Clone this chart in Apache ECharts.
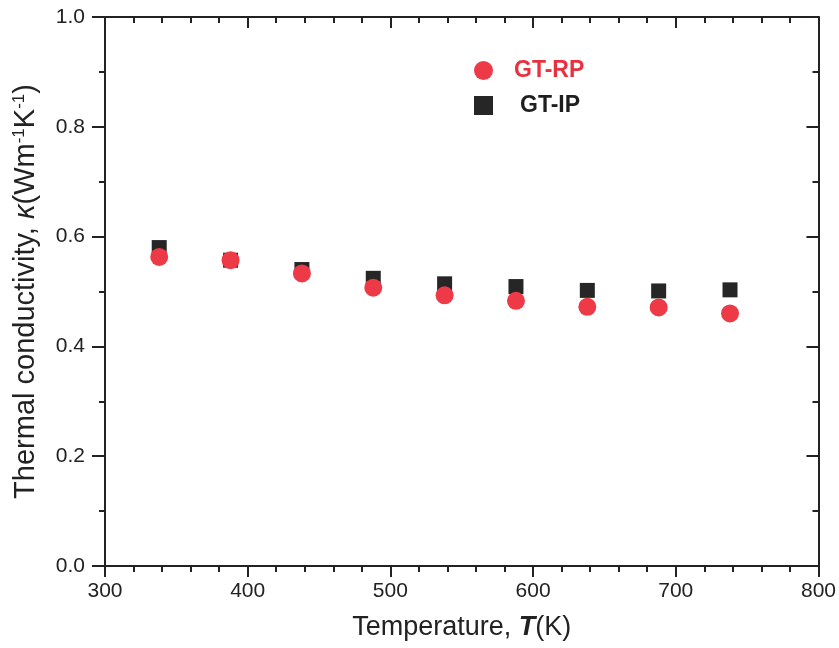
<!DOCTYPE html>
<html>
<head>
<meta charset="utf-8">
<script src="https://cdn.jsdelivr.net/npm/echarts@6/dist/echarts.min.js"></script>
<style>html,body{margin:0;padding:0;background:#fff}#c{width:839px;height:648px}</style>
</head>
<body>
<div id="c"></div>
<script>
var temperatures = [338, 388, 438, 488, 538, 588, 638, 688, 738];
var gtRP = [0.563, 0.557, 0.533, 0.507, 0.493, 0.483, 0.472, 0.471, 0.460];
var gtIP = [0.580, 0.557, 0.540, 0.524, 0.514, 0.509, 0.502, 0.501, 0.503];
var seriesNames = ['GT-RP', 'GT-IP'];

function pairs(xs, ys) { return xs.map(function (x, i) { return [x, ys[i]]; }); }

var FONT = '"Liberation Sans", Arial, sans-serif';
var axisLine = { show: true, onZero: false, lineStyle: { color: '#222', width: 2 } };
var chart = echarts.init(document.getElementById('c'), null, { renderer: 'canvas' });
chart.setOption({
  backgroundColor: '#fff',
  animation: false,
  grid: { left: 105, right: 19, top: 17, bottom: 82, containLabel: false },
  legend: {
    orient: 'vertical', left: 469, top: 54, itemWidth: 19, itemHeight: 19, itemGap: 12,
    textStyle: { fontFamily: FONT, fontSize: 23, fontWeight: 'bold', padding: [0, 0, 0, 16] },
    data: [
      { name: seriesNames[0], icon: 'circle', textStyle: { color: '#e8313f' } },
      { name: seriesNames[1], icon: 'rect', textStyle: { color: '#1e1e1e', padding: [0, 0, 0, 22] } }
    ]
  },
  xAxis: [{
    type: 'value', min: 300, max: 800, interval: 100, position: 'bottom',
    axisLine: axisLine,
    axisTick: { show: true, inside: false, length: 11, lineStyle: { color: '#222', width: 2 } },
    minorTick: { show: true, splitNumber: 5, length: 6, lineStyle: { color: '#222', width: 2 } },
    splitLine: { show: false },
    axisLabel: { fontFamily: FONT, fontSize: 21, color: '#222', margin: 15 },
    name: '{n|Temperature, }{b|T}{n|(K)}', nameLocation: 'middle', nameGap: 48,
    nameTextStyle: { rich: {
      n: { fontFamily: FONT, fontSize: 27, color: '#222' },
      b: { fontFamily: FONT, fontSize: 27, color: '#222', fontWeight: 'bold', fontStyle: 'italic' }
    } }
  }, {
    type: 'value', min: 300, max: 800, interval: 100, position: 'top',
    axisLine: axisLine,
    axisTick: { show: true, inside: true, length: 11, lineStyle: { color: '#222', width: 2 } },
    minorTick: { show: true, splitNumber: 5, length: 6, lineStyle: { color: '#222', width: 2 } },
    splitLine: { show: false }, axisLabel: { show: false }
  }],
  yAxis: [{
    type: 'value', min: 0, max: 1, interval: 0.2, position: 'left',
    axisLine: axisLine,
    axisTick: { show: true, inside: false, length: 13, lineStyle: { color: '#222', width: 2 } },
    minorTick: { show: true, splitNumber: 2, length: 6, lineStyle: { color: '#222', width: 2 } },
    splitLine: { show: false },
    axisLabel: { fontFamily: FONT, fontSize: 21, color: '#222', margin: 20, formatter: function (v) { return v.toFixed(1); } },
    name: '{n|Thermal conductivity, }{i|κ}{n|(Wm}{s|-1}{n|K}{s|-1}{n|)}', nameLocation: 'middle', nameGap: 64,
    nameTextStyle: { rich: {
      n: { fontFamily: FONT, fontSize: 29, color: '#222' },
      i: { fontFamily: FONT, fontSize: 29, color: '#222', fontStyle: 'italic' },
      s: { fontFamily: FONT, fontSize: 17, color: '#222', verticalAlign: 'top', padding: [0, 0, 13, 0] }
    } }
  }, {
    type: 'value', min: 0, max: 1, interval: 0.2, position: 'right',
    axisLine: axisLine,
    axisTick: { show: true, inside: true, length: 12, lineStyle: { color: '#222', width: 2 } },
    minorTick: { show: true, splitNumber: 2, length: 6, lineStyle: { color: '#222', width: 2 } },
    splitLine: { show: false }, axisLabel: { show: false }
  }],
  series: [{
    name: seriesNames[1], type: 'scatter', symbol: 'rect', symbolSize: 15,
    itemStyle: { color: '#262626', opacity: 1 },
    data: pairs(temperatures, gtIP), z: 2
  }, {
    name: seriesNames[0], type: 'scatter', symbol: 'circle', symbolSize: 18,
    itemStyle: { color: '#ee3a47', opacity: 1 },
    data: pairs(temperatures, gtRP), z: 3
  }]
});
</script>
</body>
</html>
